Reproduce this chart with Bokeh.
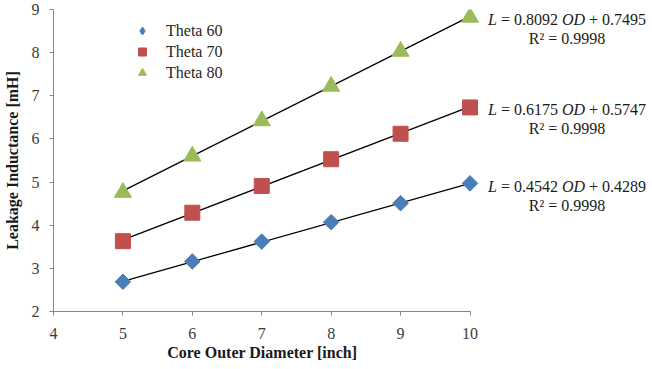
from bokeh.plotting import figure
from bokeh.models import Range1d, FixedTicker, Label, Legend, LegendItem, Title
from bokeh.embed import file_html
from bokeh.resources import INLINE

# ---- data ----
od = [5, 6, 7, 8, 9, 10]
series_names = ["Theta 60", "Theta 70", "Theta 80"]
theta60 = [2.69, 3.16, 3.62, 4.07, 4.51, 4.97]
theta70 = [3.63, 4.29, 4.91, 5.53, 6.12, 6.73]
theta80 = [4.76, 5.60, 6.42, 7.22, 8.03, 8.82]
slopes = [0.4542, 0.6175, 0.8092]
intercepts = [0.4289, 0.5747, 0.7495]
r_squared = [0.9998, 0.9998, 0.9998]
x_ticks = [4, 5, 6, 7, 8, 9, 10]
y_ticks = [2, 3, 4, 5, 6, 7, 8, 9]
x_title = "Core Outer Diameter [inch]"
y_title = "Leakage Inductance [mH]"

colors = ["#4a7ebb", "#c0504d", "#9bbb59"]
markers = ["square", "square", "triangle"]
legend_markers = ["diamond", "square", "triangle"]
angles = [0.785398, 0.0, 0.0]
sizes = [11, 15, 17]
legend_sizes = [11, 9, 10]
FONT = "Liberation Serif"

W, H = 652, 369
left, right, top, bottom = 53, 0, 9, 58
px_per_unit = (469.5 - 53) / (x_ticks[-1] - x_ticks[0])
x_end = x_ticks[0] + (W - left - right) / px_per_unit

p = figure(width=W, height=H, output_backend="svg", toolbar_location=None,
           x_range=Range1d(x_ticks[0], x_end), y_range=Range1d(y_ticks[0], y_ticks[-1]),
           min_border_left=left, min_border_right=right,
           min_border_top=top, min_border_bottom=bottom)
p.outline_line_color = None
p.xgrid.visible = False
p.ygrid.visible = False
p.background_fill_color = "white"
p.border_fill_color = "white"

for ax in (p.xaxis, p.yaxis):
    ax.axis_line_color = "#868686"
    ax.major_tick_line_color = "#868686"
    ax.minor_tick_line_color = None
    ax.major_tick_in = 0
    ax.major_tick_out = 4
    ax.major_label_text_font = FONT
    ax.major_label_text_font_size = "16px"
    ax.major_label_text_color = "#3a3a3a"
    ax.major_label_standoff = 10
p.xaxis.major_label_standoff = 12
p.xaxis.ticker = FixedTicker(ticks=x_ticks)
p.yaxis.ticker = FixedTicker(ticks=y_ticks)
p.xaxis.bounds = (x_ticks[0], x_ticks[-1])

p.yaxis.axis_label = y_title
p.yaxis.axis_label_text_font = FONT
p.yaxis.axis_label_text_font_style = "bold"
p.yaxis.axis_label_text_font_size = "16px"
p.yaxis.axis_label_text_color = "#1a1a1a"
p.yaxis.axis_label_standoff = 8

# x-axis title, centred under the bounded axis (4..10)
title_width = 189
axis_center_px = (x_ticks[-1] - x_ticks[0]) * px_per_unit / 2
p.add_layout(Title(text=x_title, align="left", offset=axis_center_px - title_width / 2,
                   text_font=FONT, text_font_style="bold", text_font_size="16px",
                   text_color="#1a1a1a", standoff=0), "below")

all_series = [theta60, theta70, theta80]

# trend lines
for s, b in zip(slopes, intercepts):
    xs = [od[0], od[-1]]
    ys = [s * xv + b for xv in xs]
    p.line(xs, ys, line_color="black", line_width=1.3)

items = []
for name, vals, c, m, lm, a, sz, lsz in zip(series_names, all_series, colors, markers,
                                             legend_markers, angles, sizes, legend_sizes):
    p.scatter(od, vals, marker=m, size=sz, angle=a, fill_color=c, line_color=c)
    # hidden twin used only for the legend symbol
    r = p.scatter(od, vals, marker=lm, size=lsz, fill_color=c, line_color=c,
                  visible=False)
    items.append(LegendItem(label=name, renderers=[r]))

legend = Legend(items=items, location=(79, 228), padding=0, margin=0,
                border_line_color=None, background_fill_alpha=0,
                inactive_fill_alpha=0,
                glyph_width=20, glyph_height=21, label_height=21, spacing=0,
                label_standoff=14, label_text_font=FONT,
                label_text_font_size="16px", label_text_color="#262626")
p.add_layout(legend)

# equations
FS = 16
cw_norm = {str(d): 0.5 for d in range(10)}
cw_norm.update({".": 0.25, " ": 0.25, "=": 0.564, "+": 0.564, "R": 0.667, "²": 0.3})
cw_ital = {"L": 0.556, "O": 0.722, "D": 0.722}

def tw(t, ital):
    tbl = cw_ital if ital else cw_norm
    return sum(tbl.get(ch, 0.5) for ch in t) * FS

space = 0.25 * FS
for s, b, r2 in zip(slopes, intercepts, r_squared):
    yend = s * od[-1] + b
    pieces = [("L", True), ("= %.4f" % s, False), ("OD", True), ("+ %.4f" % b, False)]
    x0 = 18
    cur = x0
    for t, ital in pieces:
        p.add_layout(Label(x=od[-1], y=yend, x_offset=cur, y_offset=-3, text=t,
                           text_align="left", text_baseline="alphabetic",
                           text_font=FONT, text_font_size="%dpx" % FS,
                           text_font_style="italic" if ital else "normal",
                           text_color="#1a1a1a"))
        cur += tw(t, ital) + space
    total = cur - space - x0
    p.add_layout(Label(x=od[-1], y=yend, x_offset=x0 + total / 2, y_offset=-22,
                       text="R² = %.4f" % r2, text_align="center",
                       text_baseline="alphabetic", text_font=FONT,
                       text_font_size="%dpx" % FS, text_color="#1a1a1a"))

open("out.html", "w").write(file_html(p, INLINE))
